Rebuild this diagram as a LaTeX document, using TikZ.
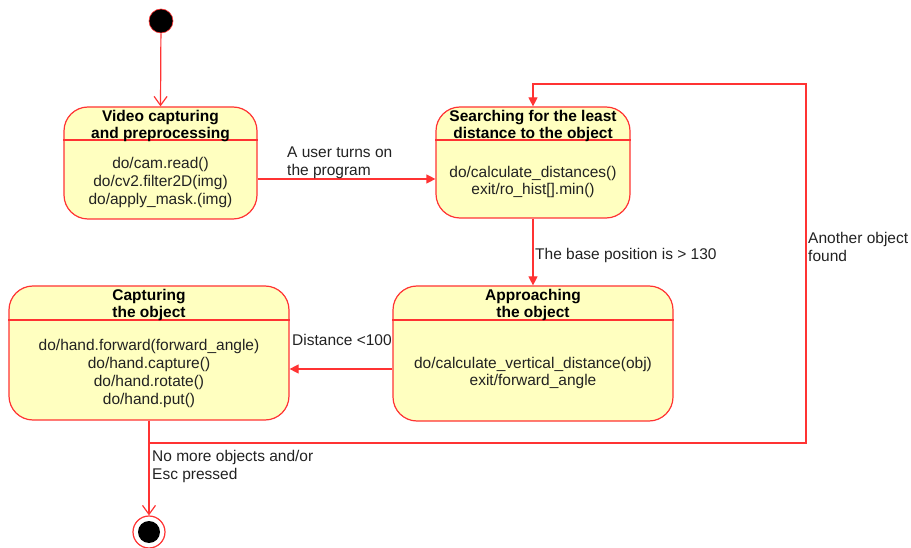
\documentclass[tikz,border=0pt]{standalone}
\usepackage{fontspec}
\setmainfont{Liberation Sans}
\usetikzlibrary{arrows.meta}
\definecolor{stfill}{HTML}{FFFFC0}
\definecolor{stline}{HTML}{FF3333}
\definecolor{txt}{HTML}{222222}
\tikzset{
  statebox/.style={draw=stline, fill=stfill, line width=1.2pt, rounded corners=24pt, rectangle, inner sep=0pt},
  divider/.style={draw=stline, line width=1.2pt},
  ttl/.style={font=\fontsize{15.5}{17.5}\selectfont\bfseries, align=center, text=black, inner sep=0pt},
  body/.style={font=\fontsize{15.5}{17.7}\selectfont, align=center, text=txt, inner sep=0pt},
  lbl/.style={font=\fontsize{15.5}{17.8}\selectfont, align=left, text=txt, inner sep=0pt, anchor=north west},
  conn/.style={draw=stline, line width=1.2pt},
  arr/.style={conn, -{Triangle[length=9pt,width=9pt]}},
  openarr/.style={conn, -{Straight Barb[length=9pt,width=13pt,line width=1.2pt]}},
}
\begin{document}
\begin{tikzpicture}[x=1pt,y=-1pt]
\useasboundingbox (0,0) rectangle (911,548);
% initial
\node[circle, fill=black, draw=stline, line width=0.6pt, minimum size=24pt, inner sep=0pt] (init) at (161,21) {};
% boxes
\node[statebox, minimum width=193pt, minimum height=112pt] (b1) at (160.5,163) {};
\node[statebox, minimum width=194pt, minimum height=111pt] (b2) at (533,162.5) {};
\node[statebox, minimum width=280pt, minimum height=135pt] (b3) at (533,353.5) {};
\node[statebox, minimum width=280pt, minimum height=134pt] (b4) at (149,353) {};
\draw[divider] (b1.west |- 0,140) -- (b1.east |- 0,140);
\draw[divider] (b2.west |- 0,140) -- (b2.east |- 0,140);
\draw[divider] (b3.west |- 0,320) -- (b3.east |- 0,320);
\draw[divider] (b4.west |- 0,320) -- (b4.east |- 0,320);
% texts
\node[ttl] (t1) at (160.5,126) {Video capturing\\and preprocessing};
\node[body] (d1) at (160.5,182.5) {do/cam.read()\\do/cv2.filter2D(img)\\do/apply\_mask.(img)};
\node[ttl] (t2) at (533,126) {Searching for the least\\distance to the object};
\node[body] (d2) at (533,182) {do/calculate\_distances()\\exit/ro\_hist[].min()};
\node[ttl] (t3) at (533,305) {Approaching\\the object};
\node[body] (d3) at (533,373) {do/calculate\_vertical\_distance(obj)\\exit/forward\_angle};
\node[ttl] (t4) at (149,305) {Capturing\\the object};
\node[body] (d4) at (149,373.5) {do/hand.forward(forward\_angle)\\do/hand.capture()\\do/hand.rotate()\\do/hand.put()};
% final
\node[circle, draw=stline, fill=white, line width=1.2pt, minimum size=32pt, inner sep=0pt] (fin) at (149,532) {};
\node[circle, fill=black, minimum size=22pt, inner sep=0pt] (fincore) at (fin.center) {};
% connectors
\draw[openarr] (init) -- (b1.north);
\draw[arr] (b1.east |- 0,179) -- (b2.west |- 0,179);
\node[lbl] (l1) at (287,146.5) {A user turns on\\the program};
\draw[arr] (b2.south) -- (b3.north);
\node[lbl] (l2) at (535,248.5) {The base position is > 130};
\draw[arr] (b3.west |- 0,369) -- (b4.east |- 0,369);
\node[lbl] (l3) at (292,334.5) {Distance <100};
\coordinate (c1) at (149,443);
\coordinate (c2) at (806,443);
\coordinate (c3) at (806,84);
\coordinate (c4) at (533,84);
\draw[arr] (b4.south) -- (c1) -- (c2) -- (c3) -- (c4) -- (b2.north);
\node[lbl] (l4) at (808,232.5) {Another object\\found};
\draw[openarr] (b4.south) -- (fin.north);
\node[lbl] (l5) at (152,450.5) {No more objects and/or\\Esc pressed};
\end{tikzpicture}
\end{document}
